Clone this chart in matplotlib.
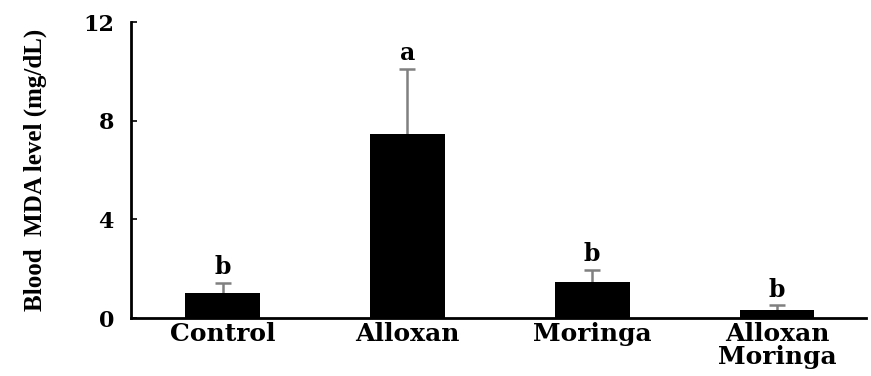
import matplotlib.pyplot as plt
import numpy as np

plt.rcParams['font.family'] = 'DejaVu Serif'
plt.rcParams['font.weight'] = 'bold'

groups = ['Control', 'Alloxan', 'Moringa', 'Alloxan\nMoringa']
mda = [1.0, 7.45, 1.45, 0.32]
err = [0.42, 2.65, 0.5, 0.2]
letters = ['b', 'a', 'b', 'b']

fig = plt.figure(figsize=(8.71, 3.76), dpi=100)
ax = fig.add_axes([0.150, 0.154, 0.844, 0.787])

x = np.arange(len(groups))
tops = np.array(mda) + np.array(err)
ax.bar(x, mda, width=0.405, color='black', zorder=2)
# upper error bars only
ax.vlines(x, mda, tops, color='#808080', linewidth=1.8, zorder=1)
ax.plot(x, tops, linestyle='none', marker='_', markersize=11,
        markeredgewidth=1.8, color='#808080', zorder=1)

for xi, t, lab in zip(x, tops, letters):
    ax.text(xi, t + 0.35, lab, ha='center', va='baseline', fontsize=17,
            fontweight='bold')

ax.set_xlim(-0.497, 3.48)
ax.set_ylim(0, 12)
ax.set_yticks([0, 4, 8, 12])
ax.set_xticks(x)
ax.set_xticklabels(groups, fontsize=18, fontweight='bold', va='top',
                   linespacing=0.95)
ax.tick_params(axis='x', length=0, pad=3)
ax.tick_params(axis='y', direction='in', length=4, width=1.2, pad=12,
               labelsize=16)
for lab in ax.get_yticklabels():
    lab.set_fontweight('bold')

ax.spines['top'].set_visible(False)
ax.spines['right'].set_visible(False)
ax.spines['left'].set_linewidth(2)
ax.spines['bottom'].set_linewidth(2)

ax.set_ylabel('Blood  MDA level (mg/dL)', fontsize=18, fontweight='bold',
              family='Liberation Serif', labelpad=26)

fig.savefig('out.png', dpi=100)
